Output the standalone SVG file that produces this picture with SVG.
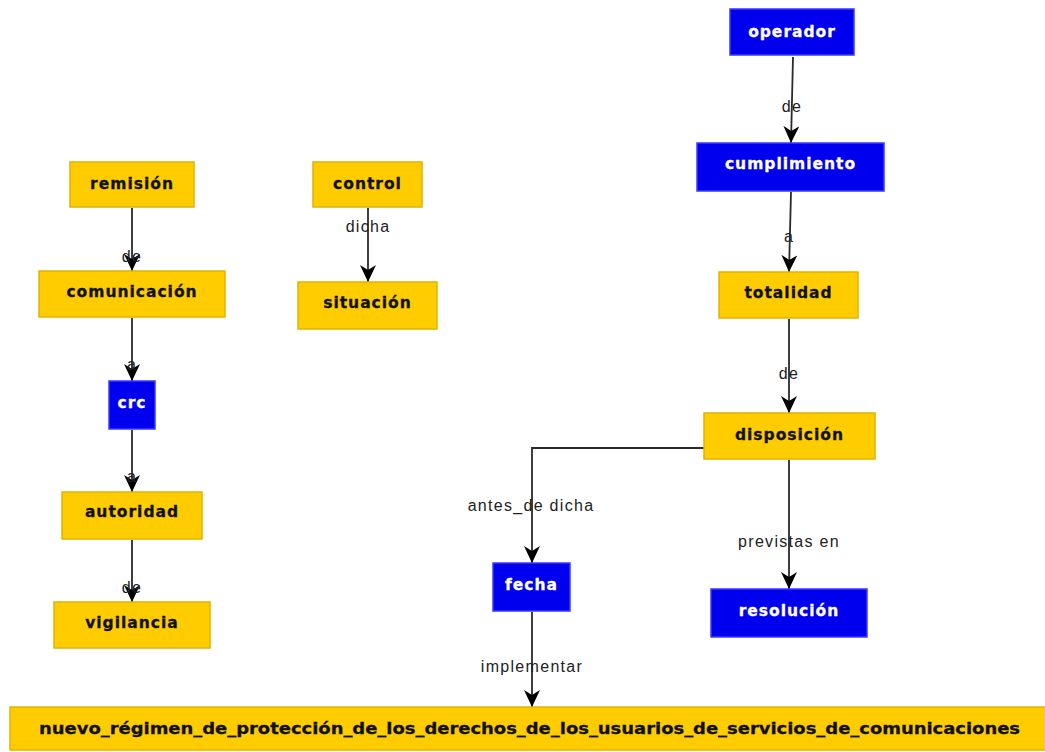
<svg xmlns="http://www.w3.org/2000/svg" width="1045" height="752" viewBox="0 0 1045 752">
<style>
.y{fill:#FFCC00;stroke:#E0B400;stroke-width:1.5}
.b{fill:#0000EE;stroke:#3a3aff;stroke-width:1.5}
.ty{font-family:"DejaVu Sans",Verdana,sans-serif;font-weight:bold;font-size:15.5px;fill:#111;stroke:#111;stroke-width:0.3;text-anchor:middle;letter-spacing:1px}
.tb{font-family:"DejaVu Sans",Verdana,sans-serif;font-weight:bold;font-size:15.5px;fill:#fff;stroke:#fff;stroke-width:0.3;text-anchor:middle;letter-spacing:1px}
.e{fill:none;stroke:#2a2a2a;stroke-width:1.8;marker-end:url(#ah)}
.l{font-family:"Liberation Sans",Arial,sans-serif;font-size:16px;fill:#222;text-anchor:middle;letter-spacing:1.3px}
</style>
<defs>
<marker id="ah" markerUnits="userSpaceOnUse" markerWidth="18" markerHeight="18" refX="17" refY="8" orient="auto">
<path d="M0,0 L17,8 L0,16 L5,8 z" fill="#000"/>
</marker>
</defs>
<rect width="1045" height="752" fill="#fff"/>
<g id="connectors">
<line class="e" x1="132" y1="208" x2="132" y2="271"/>
<line class="e" x1="132" y1="318" x2="132" y2="381"/>
<line class="e" x1="132" y1="430" x2="132" y2="492"/>
<line class="e" x1="132" y1="540" x2="132" y2="602"/>
<line class="e" x1="368" y1="208" x2="368" y2="282"/>
<line class="e" x1="793" y1="57" x2="791" y2="143"/>
<line class="e" x1="791" y1="192" x2="789" y2="272"/>
<line class="e" x1="789" y1="319" x2="789" y2="413"/>
<polyline class="e" points="704,448 532,448 532,563"/>
<line class="e" x1="789" y1="460" x2="789" y2="589"/>
<line class="e" x1="532" y1="612" x2="532" y2="707"/>
<text class="l" x="132" y="262">de</text>
<text class="l" x="132" y="370">a</text>
<text class="l" x="132" y="482">a</text>
<text class="l" x="132" y="593">de</text>
<text class="l" x="368" y="232">dicha</text>
<text class="l" x="792" y="112">de</text>
<text class="l" x="789" y="242">a</text>
<text class="l" x="789" y="379">de</text>
<text class="l" x="531" y="511">antes_de dicha</text>
<text class="l" x="789" y="547">previstas en</text>
<text class="l" x="532" y="672">implementar</text>
</g>
<g id="remision"><rect class="y" x="70" y="162" width="124" height="45"/><text class="ty" x="132" y="189">remisión</text></g>
<g id="control"><rect class="y" x="313" y="162" width="109" height="45"/><text class="ty" x="367.5" y="189">control</text></g>
<g id="comunicacion"><rect class="y" x="39" y="271" width="186" height="46"/><text class="ty" x="132" y="297">comunicación</text></g>
<g id="situacion"><rect class="y" x="298" y="282" width="139" height="47"/><text class="ty" x="367.5" y="308">situación</text></g>
<g id="crc"><rect class="b" x="109" y="381" width="46" height="48"/><text class="tb" x="132" y="408">crc</text></g>
<g id="autoridad"><rect class="y" x="62" y="492" width="140" height="47"/><text class="ty" x="132" y="517">autoridad</text></g>
<g id="vigilancia"><rect class="y" x="54" y="602" width="156" height="46"/><text class="ty" x="132" y="628">vigilancia</text></g>
<g id="operador"><rect class="b" x="730" y="9" width="124" height="46"/><text class="tb" x="792" y="37">operador</text></g>
<g id="cumplimiento"><rect class="b" x="697" y="143" width="187" height="48"/><text class="tb" x="790.5" y="169">cumplimiento</text></g>
<g id="totalidad"><rect class="y" x="719" y="272" width="139" height="46"/><text class="ty" x="788.5" y="298">totalidad</text></g>
<g id="disposicion"><rect class="y" x="704" y="413" width="171" height="46"/><text class="ty" x="789.5" y="440">disposición</text></g>
<g id="fecha"><rect class="b" x="493" y="563" width="77" height="48"/><text class="tb" x="531.5" y="590">fecha</text></g>
<g id="resolucion"><rect class="b" x="711" y="589" width="156" height="48"/><text class="tb" x="789" y="616">resolución</text></g>
<g id="nuevo_regimen"><rect class="y" x="10" y="707" width="1045" height="43"/><text class="ty" x="529.5" y="734" textLength="981" lengthAdjust="spacingAndGlyphs" style="letter-spacing:0">nuevo_régimen_de_protección_de_los_derechos_de_los_usuarios_de_servicios_de_comunicaciones</text></g>
</svg>
